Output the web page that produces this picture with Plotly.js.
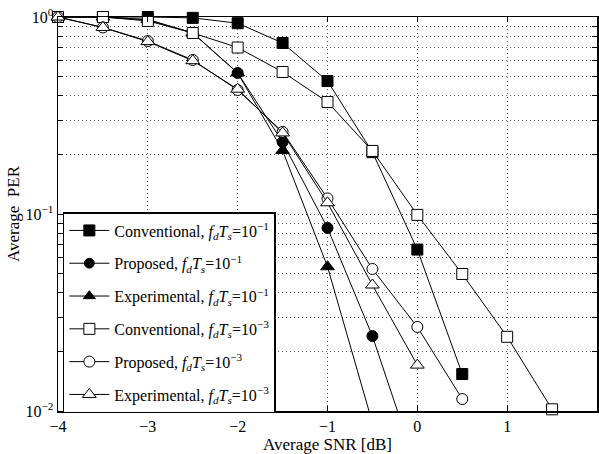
<!DOCTYPE html>
<html>
<head>
<meta charset="utf-8">
<script src="https://cdn.plot.ly/plotly-3.0.1.min.js"></script>
<style>html,body{margin:0;padding:0;background:#fff;}#chart{width:599px;height:454px;}</style>
</head>
<body>
<div id="chart"></div>
<script>
// SNR values [dB]
const snr = [-4, -3.5, -3, -2.5, -2, -1.5, -1, -0.5, 0, 0.5, 1, 1.5];
// Average PER per series
const convFast = [1.0, 1.0, 1.0, 0.99, 0.93, 0.738, 0.473, 0.206, 0.066, 0.0154];
const propFast = [1.0, 1.0, 0.97, 0.83, 0.52, 0.232, 0.085, 0.024, 0.005];
const expFast  = [1.0, 1.0, 0.97, 0.83, 0.52, 0.21, 0.054, 0.0087];
const convSlow = [1.0, 1.0, 0.955, 0.83, 0.70, 0.526, 0.37, 0.209, 0.099, 0.0496, 0.0238, 0.0102];
const propSlow = [1.0, 0.885, 0.755, 0.605, 0.426, 0.261, 0.12, 0.0526, 0.0267, 0.0115];
const expSlow  = [1.0, 0.885, 0.75, 0.60, 0.43, 0.258, 0.114, 0.0436, 0.0171];

const names = [
  'Conventional, <i>f</i><sub><i>d</i></sub><i>T</i><sub><i>s</i></sub>=10<sup>\u22121</sup>',
  'Proposed, <i>f</i><sub><i>d</i></sub><i>T</i><sub><i>s</i></sub>=10<sup>\u22121</sup>',
  'Experimental, <i>f</i><sub><i>d</i></sub><i>T</i><sub><i>s</i></sub>=10<sup>\u22121</sup>',
  'Conventional, <i>f</i><sub><i>d</i></sub><i>T</i><sub><i>s</i></sub>=10<sup>\u22123</sup>',
  'Proposed, <i>f</i><sub><i>d</i></sub><i>T</i><sub><i>s</i></sub>=10<sup>\u22123</sup>',
  'Experimental, <i>f</i><sub><i>d</i></sub><i>T</i><sub><i>s</i></sub>=10<sup>\u22123</sup>'
];
const yTickVals = [0.01,0.02,0.03,0.04,0.05,0.06,0.07,0.08,0.09,0.1,0.2,0.3,0.4,0.5,0.6,0.7,0.8,0.9,1];
const yTickText = yTickVals.map(v => v === 0.01 ? '10<sup>\u22122</sup>' : v === 0.1 ? '10<sup>\u22121</sup>' : v === 1 ? '10<sup>0</sup>' : '');
const xTickVals = [-4, -3, -2, -1, 0, 1, 2];
const xTickText = ['\u22124', '\u22123', '\u22122', '\u22121', '0', '1', '2'];

const series = [convFast, propFast, expFast, convSlow, propSlow, expSlow];
const symbols = ['square', 'circle', 'triangle-up', 'square', 'circle', 'triangle-up'];
const traces = series.map((ys, i) => ({
  x: snr.slice(0, ys.length),
  y: ys,
  name: names[i],
  legendgroup: 'g' + i,
  type: 'scatter',
  mode: 'lines+markers',
  cliponaxis: false,
  line: {color: '#000', width: 1},
  marker: {
    symbol: symbols[i],
    color: i < 3 ? '#000' : '#fff',
    opacity: 1,
    size: ys.map(v => v >= 0.01 ? (i % 3 === 2 ? 12 : 11) : 0),
    line: {color: '#000', width: 1}
  }
}));

const fam = 'Liberation Serif, Times New Roman, serif';
const layout = {
  width: 599, height: 454,
  margin: {l: 58, r: 2, t: 17, b: 43},
  paper_bgcolor: '#fff', plot_bgcolor: '#fff',
  font: {family: fam, size: 15, color: '#000'},
  showlegend: true,
  legend: {
    x: 0.009, y: 0.505, xanchor: 'left', yanchor: 'top',
    bgcolor: '#fff', bordercolor: '#000', borderwidth: 1.5,
    font: {family: fam, size: 16, color: '#000'},
    itemwidth: 40, tracegroupgap: 9
  },
  xaxis: {
    range: [-4, 2],
    tickvals: xTickVals, ticktext: xTickText,
    ticks: 'inside', ticklen: 5, tickcolor: '#000',
    showline: true, linecolor: '#000', linewidth: 1.5, mirror: 'ticks',
    showgrid: true, gridcolor: '#555', griddash: '1px,3px', gridwidth: 1,
    zeroline: false,
    tickfont: {family: fam, size: 16, color: '#000'},
    title: {text: 'Average SNR [dB]', font: {family: fam, size: 17, color: '#000'}, standoff: 1}
  },
  yaxis: {
    type: 'log', range: [-2, 0],
    tickvals: yTickVals, ticktext: yTickText,
    ticks: 'inside', ticklen: 5, tickcolor: '#000',
    showline: true, linecolor: '#000', linewidth: 1.5, mirror: 'ticks',
    showgrid: true, gridcolor: '#555', griddash: '1px,3px', gridwidth: 1,
    zeroline: false,
    tickfont: {family: fam, size: 16, color: '#000'},
    title: {text: 'Average\u00a0\u00a0PER', font: {family: fam, size: 17, color: '#000'}, standoff: 1}
  }
};
Plotly.newPlot('chart', traces, layout, {displayModeBar: false, staticPlot: true});
</script>
</body>
</html>
